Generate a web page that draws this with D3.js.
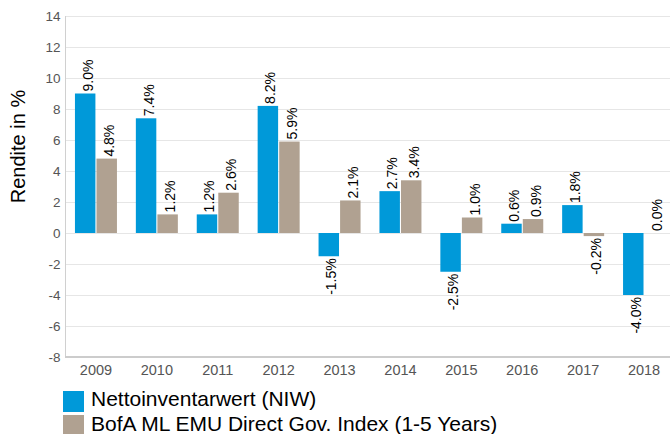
<!DOCTYPE html>
<html lang="de">
<head>
    <meta charset="UTF-8">
    <title>Rendite in %</title>
    <style>
        html, body { margin: 0; padding: 0; background: #fff; overflow: hidden; }
        svg { display: block; font-family: Arial, "Liberation Sans", sans-serif; }
        .grid line { stroke: #e6e6e6; stroke-width: 1; }
        .tick-label { fill: #555; font-size: 13.5px; }
        .bar-label { fill: #000; font-size: 14px; }
        .legend-text { fill: #000; font-size: 21px; }
    </style>
    <script src="https://d3js.org/d3.v7.min.js"></script>
</head>
<body>
    <svg width="670" height="434"></svg>
    <script>
        // data
        var years = ["2009", "2010", "2011", "2012", "2013", "2014", "2015", "2016", "2017", "2018"];
        var niw = [9.0, 7.4, 1.2, 8.2, -1.5, 2.7, -2.5, 0.6, 1.8, -4.0];
        var bofa = [4.8, 1.2, 2.6, 5.9, 2.1, 3.4, 1.0, 0.9, -0.2, 0.0];
        var yTicks = [-8, -6, -4, -2, 0, 2, 4, 6, 8, 10, 12, 14];
        var seriesNames = ["Nettoinventarwert (NIW)", "BofA ML EMU Direct Gov. Index (1-5 Years)"];
        var colors = ["#0099d9", "#b0a191"];

        var svg = d3.select("svg");

        var x = d3.scaleBand().domain(years).range([65.5, 674.5]).padding(0);
        var x1 = d3.scaleBand().domain([0, 1]).range([-21, 21]).paddingInner(0.05);
        var y = d3.scaleLinear().domain([-8, 14]).range([357, 16]);

        // gridlines
        svg.append("g").attr("class", "grid")
            .selectAll("line")
            .data(yTicks)
            .enter().append("line")
            .attr("x1", 65).attr("x2", 670)
            .attr("y1", d => Math.round(y(d)) + 0.5)
            .attr("y2", d => Math.round(y(d)) + 0.5);

        // axis lines
        svg.append("line")
            .attr("x1", 65.5).attr("x2", 65.5)
            .attr("y1", y(14)).attr("y2", y(-8))
            .attr("stroke", "#d0d0d0");
        svg.append("line")
            .attr("x1", 65).attr("x2", 670)
            .attr("y1", y(-8)).attr("y2", y(-8))
            .attr("stroke", "#cccccc").attr("stroke-width", 2);

        // y tick labels
        svg.append("g")
            .selectAll("text")
            .data(yTicks)
            .enter().append("text")
            .attr("class", "tick-label")
            .attr("x", 60.5)
            .attr("y", d => y(d) + 5)
            .attr("text-anchor", "end")
            .text(d => d);

        // x tick labels
        svg.append("g")
            .selectAll("text")
            .data(years)
            .enter().append("text")
            .attr("class", "tick-label")
            .attr("x", d => x(d) + x.bandwidth() / 2)
            .attr("y", 375)
            .attr("text-anchor", "middle")
            .style("font-size", "14.5px")
            .text(d => d);

        // y title
        svg.append("text")
            .attr("transform", "translate(25,146.5) rotate(-90)")
            .attr("text-anchor", "middle")
            .style("font-size", "20px")
            .attr("fill", "#000")
            .text("Rendite in %");

        var rows = [];
        years.forEach(function(yr, i) {
            rows.push({ year: yr, s: 0, v: niw[i] });
            rows.push({ year: yr, s: 1, v: bofa[i] });
        });

        function cx(d) { return x(d.year) + x.bandwidth() / 2 + x1(d.s); }

        svg.append("g")
            .selectAll("rect")
            .data(rows)
            .enter().append("rect")
            .attr("x", d => cx(d))
            .attr("width", x1.bandwidth())
            .attr("y", d => y(Math.max(0, d.v)))
            .attr("height", d => Math.abs(y(d.v) - y(0)))
            .attr("fill", d => colors[d.s]);

        // value labels, rotated
        svg.append("g")
            .selectAll("text")
            .data(rows)
            .enter().append("text")
            .attr("class", "bar-label")
            .attr("transform", function(d) {
                var tx = cx(d) + x1.bandwidth() / 2 + 7.5;
                var ty = d.v >= 0 ? y(d.v) - 2 : y(d.v) + 2;
                return "translate(" + tx + "," + ty + ") rotate(-90)";
            })
            .attr("text-anchor", d => d.v >= 0 ? "start" : "end")
            .text(d => d.v.toFixed(1) + "%");

        // legend
        var legend = svg.append("g")
            .selectAll("g")
            .data(seriesNames)
            .enter().append("g")
            .attr("transform", (d, i) => "translate(63," + (391 + i * 24) + ")");
        legend.append("rect")
            .attr("width", 21).attr("height", 21)
            .attr("fill", (d, i) => colors[i]);
        legend.append("text")
            .attr("class", "legend-text")
            .attr("x", 28).attr("y", (d, i) => 15 + i)
            .text(d => d);
    </script>
</body>
</html>
